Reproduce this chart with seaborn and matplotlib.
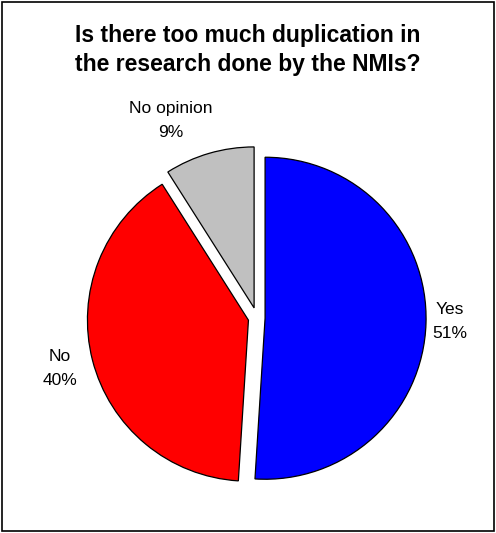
import matplotlib
matplotlib.use("Agg")
import matplotlib.pyplot as plt
import seaborn as sns
from matplotlib.patches import Rectangle

answers = ["Yes", "No", "No opinion"]
shares = [51, 40, 9]
colors = ["#0000FF", "#FF0000", "#C0C0C0"]
title = "Is there too much duplication in\nthe research done by the NMIs?"

sns.set_style("white")
plt.rcParams["font.family"] = ["Liberation Sans", "DejaVu Sans"]
plt.rcParams["text.color"] = "black"

fig = plt.figure(figsize=(4.96, 5.33), dpi=100)
ax = fig.add_axes([0.0962, 0.0107, 0.844, 0.7854])
labels = [f"{a}\n{s}%" for a, s in zip(answers, shares)]
wedges, texts = ax.pie(shares, labels=labels, colors=colors, startangle=90, counterclock=False,
                       explode=[0.05, 0.055, 0.065], labeldistance=1.21,
                       wedgeprops=dict(edgecolor="black", linewidth=0.9),
                       textprops=dict(fontsize=12.5, color="black", ha="center", va="center",
                                      linespacing=1.75))
# small nudges so the labels sit where the original put them
x, y = texts[0].get_position()
texts[0].set_position((x - 0.06, y + 0.02))
x, y = texts[2].get_position()
texts[2].set_position((x - 0.18, y + 0.0))
ax.set_xlim(-1.3, 1.3)
ax.set_ylim(-1.3, 1.3)
ax.set_aspect("equal")

fig.text(0.5, 0.906, title, ha="center", va="center", fontsize=16.5, fontweight="bold",
         color="black", linespacing=1.3)
fig.add_artist(Rectangle((0.004, 0.004), 0.992, 0.992, transform=fig.transFigure,
                         fill=False, edgecolor="black", linewidth=1.2))
fig.savefig("out.png", dpi=100)
plt.close(fig)
